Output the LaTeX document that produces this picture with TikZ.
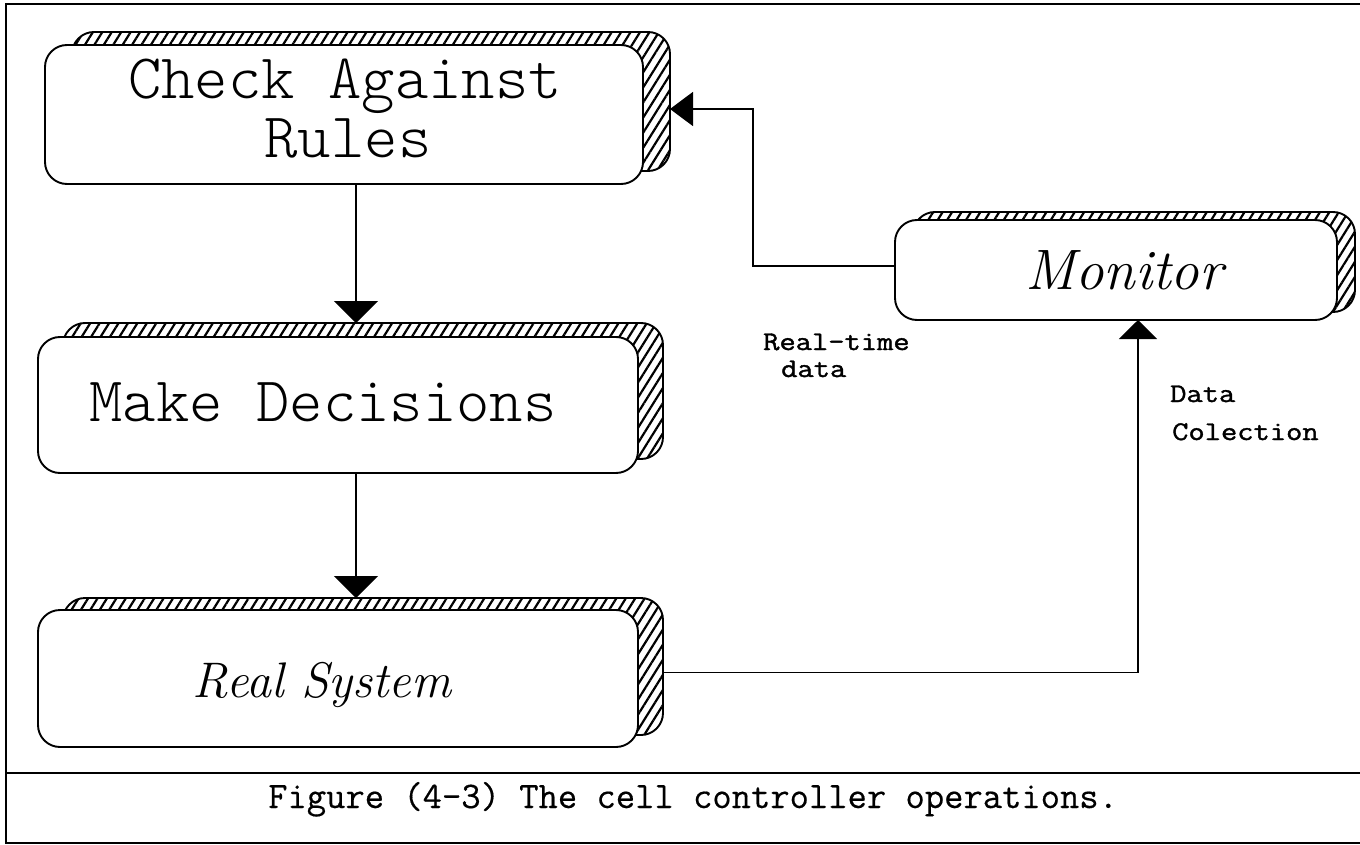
\documentclass[tikz,border=0pt]{standalone}
\usepackage{fontspec}
\newfontfamily\boxfont{Latin Modern Mono Light}
\newfontfamily\lblfont[FakeStretch=1.17,FakeBold=1.4]{Latin Modern Mono}
\newfontfamily\capfont[FakeBold=0.4]{Latin Modern Mono}
\usetikzlibrary{patterns.meta,arrows.meta}
\begin{document}
\begin{tikzpicture}[x=1pt,y=-1pt,
  front/.style={draw,line width=1.9pt,fill=white,rounded corners=22pt,inner sep=0pt,outer sep=0pt},
  shadowbox/.style={draw,line width=1.9pt,rounded corners=22pt,inner sep=0pt,outer sep=0pt,
     pattern={Lines[angle=58,distance=8pt,line width=2.2pt]}},
  conn/.style={line width=1.6pt},
  tipv/.style={-{Triangle[length=22pt,width=44pt]}},
  tiph/.style={-{Triangle[length=23pt,width=34pt]}},
  tipm/.style={-{Triangle[length=19pt,width=38pt]}},
  bigtxt/.style={font={\boxfont\fontsize{63.5}{72}\selectfont},anchor=base,inner sep=0pt},
  ittxt/.style={font={\itshape\fontsize{#1}{#1}\selectfont},anchor=base,inner sep=0pt},
  lbl/.style={font={\lblfont\fontsize{27}{30}\selectfont},anchor=base west,inner sep=0pt}
]
\useasboundingbox (0,0) rectangle (1360,845);
% frame
\draw[line width=1.8pt] (6,4) rectangle (1380,843);
\draw[line width=1.8pt] (6,773) -- (1380,773);

% box 1
\node[shadowbox,minimum width=598pt,minimum height=139pt] (s1) at (371,101.5) {};
\node[front,minimum width=598pt,minimum height=139pt] (b1) at (344,114.5) {};
\node[bigtxt] (t1a) at (345,99) {Check Against};
\node[bigtxt] (t1b) at (348,158) {Rules};

% box 2
\node[shadowbox,minimum width=600pt,minimum height=136pt] (s2) at (363,391) {};
\node[front,minimum width=600pt,minimum height=136pt] (b2) at (338,405) {};
\node[bigtxt] (t2) at (323,421) {Make Decisions};

% box 3
\node[shadowbox,minimum width=600pt,minimum height=137pt] (s3) at (363,666.5) {};
\node[front,minimum width=600pt,minimum height=137pt] (b3) at (338,678.5) {};
\node[ittxt=50] (t3) at (322,697) {Real System};

% box 4
\node[shadowbox,minimum width=442pt,minimum height=100pt] (s4) at (1134,262) {};
\node[front,minimum width=442pt,minimum height=100pt] (b4) at (1116,270) {};
\node[ittxt=57] (t4) at (1124,289) {Monitor};

% connectors
\coordinate (cv) at (356,0);
\coordinate (cm) at (1138,0);
\coordinate (cx) at (753,109);
\draw[conn,tipv] (b1.south -| cv) -- (s2.north -| cv);
\draw[conn,tipv] (b2.south -| cv) -- (s3.north -| cv);
\draw[conn,tipm] ([yshift=-6pt]s3.east) -| (b4.south -| cm);
\draw[conn,tiph] ([yshift=4pt]b4.west) -| (cx) -- (cx -| s1.east);

% labels
\node[lbl] (l1) at (763,350) {Real–time};
\node[lbl] (l2) at (781,377) {data};
\node[lbl] (l3) at (1170,402) {Data};
\node[lbl] (l4) at (1172,440) {Colection};

% caption
\node[font={\capfont\fontsize{37.5}{40}\selectfont},anchor=base west,inner sep=0pt] (cap) at (268,808) {Figure (4–3) The cell controller operations.};
\end{tikzpicture}
\end{document}
